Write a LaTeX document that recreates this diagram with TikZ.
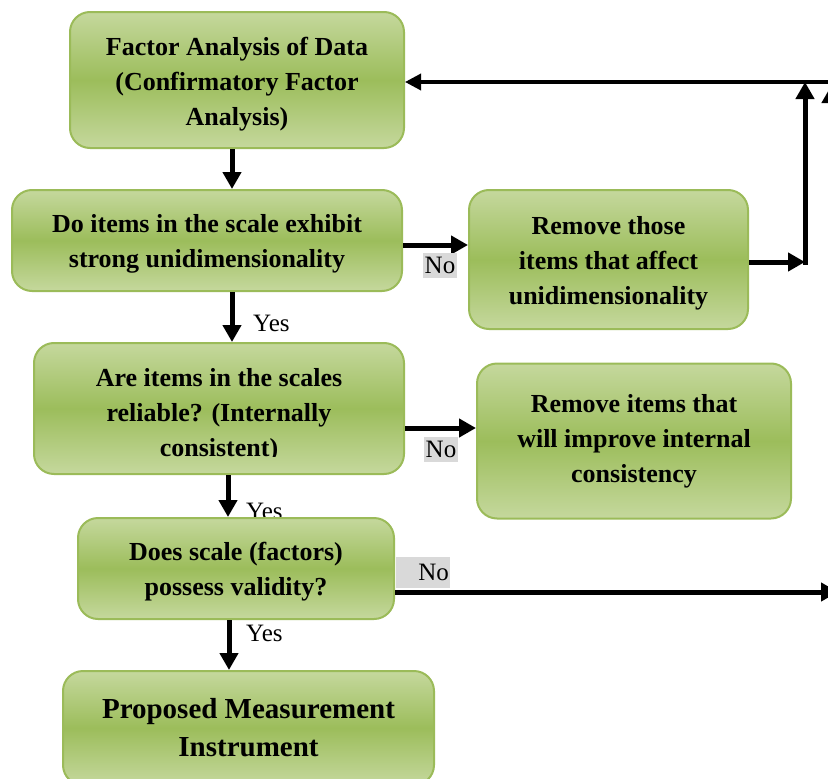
\documentclass[tikz,border=0pt]{standalone}
\usepackage{fontspec}
\setmainfont{Liberation Serif}
\usetikzlibrary{arrows.meta}

\definecolor{gLight}{RGB}{197,216,157}
\definecolor{gMid}{RGB}{156,189,91}
\definecolor{gEdge}{RGB}{155,187,89}
\definecolor{tagGray}{RGB}{217,217,217}

\tikzset{
  boxtext/.style={align=center, inner sep=0pt,
    font=\fontsize{26}{35}\selectfont\bfseries},
  stepbox/.style={boxtext, draw=gEdge, line width=2pt, rounded corners=20pt,
    top color=gLight, bottom color=gLight, middle color=gMid},
  flow/.style={line width=5pt, -{Triangle[length=17pt,width=18pt]}},
  yesno/.style={font=\fontsize{25}{30}\selectfont, inner sep=0pt},
  notag/.style={yesno, fill=tagGray, inner sep=1pt}
}

\begin{document}
\begin{tikzpicture}[x=1pt, y=-1pt]
\clip (0,0) rectangle (828,779);

% process and decision boxes, each with its text set on top
\node[stepbox, minimum width=334pt, minimum height=136pt] (fa) at (237,80) {};
\node[boxtext] (fat) at (237,84.5)
  {Factor Analysis of Data\\(Confirmatory Factor\\Analysis)};
\node[stepbox, minimum width=390pt, minimum height=101pt] (uni) at (207,240.5) {};
\node[boxtext] (unit) at (207,243.5)
  {Do items in the scale exhibit\\strong unidimensionality};
\node[stepbox, minimum width=279pt, minimum height=139pt] (rmu) at (608.5,259.5) {};
\node[boxtext] (rmut) at (608.5,263)
  {Remove those\\items that affect\\unidimensionality};
\node[stepbox, minimum width=370pt, minimum height=131pt] (rel) at (219,408.5) {};
\begin{scope}
  \clip (34,343) rectangle (404,456.5);
  \node[boxtext] (relt) at (219,415.5)
    {Are items in the scales\\reliable? (Internally\\consistent)};
\end{scope}
\node[stepbox, minimum width=314pt, minimum height=155pt] (rmc) at (634,441)
  {Remove items that\\will improve internal\\consistency};

% this label sits partly under the validity box
\node[yesno, anchor=base west] (yes2) at (246,519) {Yes};

\node[stepbox, minimum width=316pt, minimum height=101pt] (val) at (236,568.5) {};
\node[boxtext] (valt) at (236,571.5)
  {Does scale (factors)\\possess validity?};
\node[stepbox, minimum width=371pt, minimum height=114pt,
  font=\fontsize{29}{38}\selectfont\bfseries] (pmi) at (248.5,728)
  {Proposed Measurement\\Instrument};

% helper coordinates for connector lines
\coordinate (xA) at (232,0);
\coordinate (xB) at (228,0);
\coordinate (xC) at (229,0);
\coordinate (yA) at (0,245);
\coordinate (yB) at (0,428);
\coordinate (yC) at (0,592);
\coordinate (yJ) at (0,262);
\coordinate (yTop) at (0,82);
\coordinate (jn) at (805,262);
\coordinate (jb) at (805,264.5);
\coordinate (jt) at (805,82);
\coordinate (topR) at (840,82);
\coordinate (offR) at (838,592);
\coordinate (rb) at (831,600);
\coordinate (rt) at (831,86);

% main flow downwards
\draw[flow] (fa.south -| xA) -- (uni.north -| xA);
\draw[flow] (uni.south -| xA) -- (rel.north -| xA);
\draw[flow] (rel.south -| xB) -- (val.north -| xB);
\draw[flow] (val.south -| xC) -- (pmi.north -| xC);

% "No" branches
\draw[flow] (uni.east |- yA) -- (rmu.west |- yA);
\draw[flow] (rel.east |- yB) -- (rmc.west |- yB);
\draw[flow] (val.east |- yC) -- (offR);

% loop back to the factor analysis
\draw[flow] (rmu.east |- yJ) -- (jn);
\draw[flow] (jb) -- (jt);
\draw[flow] (rb) -- (rt);
\draw[line width=3.5pt, -{Triangle[length=16pt,width=16pt]}] (topR) -- (fa.east |- yTop);

% branch labels
\node[yesno, anchor=base west] (yes1) at (253,331) {Yes};
\node[yesno, anchor=base west] (yes3) at (246,641) {Yes};
\node[notag, minimum width=34pt, minimum height=25pt] (no1) at (440,265) {No};
\node[notag, minimum width=34pt, minimum height=25pt] (no2) at (441,449.5) {No};
\node[notag, text width=52pt, align=right, minimum height=31pt] (no3) at (423,572.5) {No};
\end{tikzpicture}
\end{document}
